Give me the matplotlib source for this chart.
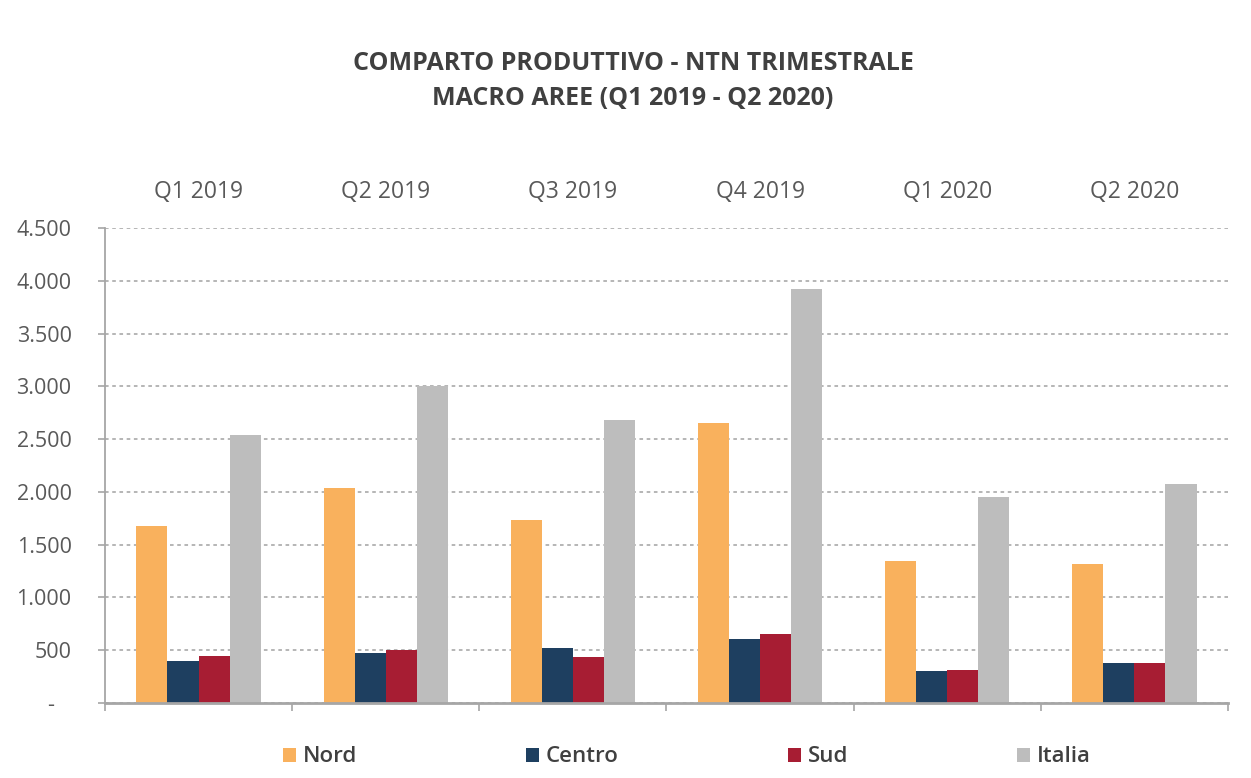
import numpy as np
import matplotlib
matplotlib.use('Agg')
import matplotlib.pyplot as plt
from matplotlib.ticker import FuncFormatter, FixedLocator

# Data
quarters = ['Q1 2019', 'Q2 2019', 'Q3 2019', 'Q4 2019', 'Q1 2020', 'Q2 2020']
nord = [1680, 2040, 1730, 2650, 1345, 1315]
centro = [395, 475, 525, 610, 300, 375]
sud = [450, 505, 440, 655, 315, 375]
italia = [2540, 3005, 2685, 3920, 1950, 2075]

series = [('Nord', nord, '#F9B15D'),
          ('Centro', centro, '#1E3F60'),
          ('Sud', sud, '#A71D33'),
          ('Italia', italia, '#BDBDBD')]

plt.rcParams['font.family'] = ['Open Sans', 'DejaVu Sans']

fig = plt.figure(figsize=(12.51, 7.78), dpi=100)
ax = fig.add_axes([0.0839, 0.0964, 0.8977, 0.6105])

x = np.arange(len(quarters))
bw = 0.166
offsets = (np.arange(len(series)) - 1.5) * bw
for (name, vals, col), off in zip(series, offsets):
    ax.bar(x + off, vals, width=bw, color=col, label=name, zorder=3)

ax.set_xlim(-0.5, len(quarters) - 0.5)
ax.set_ylim(0, 4500)
ax.set_yticks(np.arange(0, 4501, 500))
ax.yaxis.set_major_formatter(FuncFormatter(
    lambda v, p: '-   ' if v == 0 else f'{int(v):,}'.replace(',', '.')))

# quarter labels on top, boundary ticks at bottom
ax.set_xticks(x)
ax.set_xticklabels(quarters)
ax.xaxis.set_minor_locator(FixedLocator(np.arange(-0.5, len(quarters), 1.0)))
ax.tick_params(axis='x', which='major', bottom=False, top=False,
               labelbottom=False, labeltop=True, labelsize=16.5,
               labelcolor='#595959', pad=14)
ax.tick_params(axis='x', which='minor', bottom=True, length=6, width=1.2,
               color='#a6a6a6')
ax.tick_params(axis='y', length=5, width=1.2, color='#a6a6a6',
               labelsize=15.5, labelcolor='#595959', pad=19)

ax.grid(axis='y', color='#b0b0b0', linestyle=(0, (2, 2)), linewidth=1.3, zorder=0)
for s in ['top', 'right']:
    ax.spines[s].set_visible(False)
ax.spines['left'].set_color('#a6a6a6')
ax.spines['left'].set_linewidth(1.3)
ax.spines['bottom'].set_color('#a6a6a6')
ax.spines['bottom'].set_linewidth(2)
ax.spines['bottom'].set_zorder(4)

fig.text(0.506, 0.919, 'COMPARTO PRODUTTIVO - NTN TRIMESTRALE', ha='center',
         va='center', fontsize=18, fontweight='bold', color='#404040')
fig.text(0.506, 0.874, 'MACRO AREE (Q1 2019 - Q2 2020)', ha='center',
         va='center', fontsize=18, fontweight='bold', color='#404040')

leg = fig.legend(loc='center', bbox_to_anchor=(0.549, 0.027), ncol=4,
                 frameon=False, fontsize=16, handlelength=0.6, handleheight=0.6,
                 handletextpad=0.3, columnspacing=7.6)
for t in leg.get_texts():
    t.set_color('#404040')
    t.set_fontweight('semibold')

fig.savefig('out.png', dpi=100)
